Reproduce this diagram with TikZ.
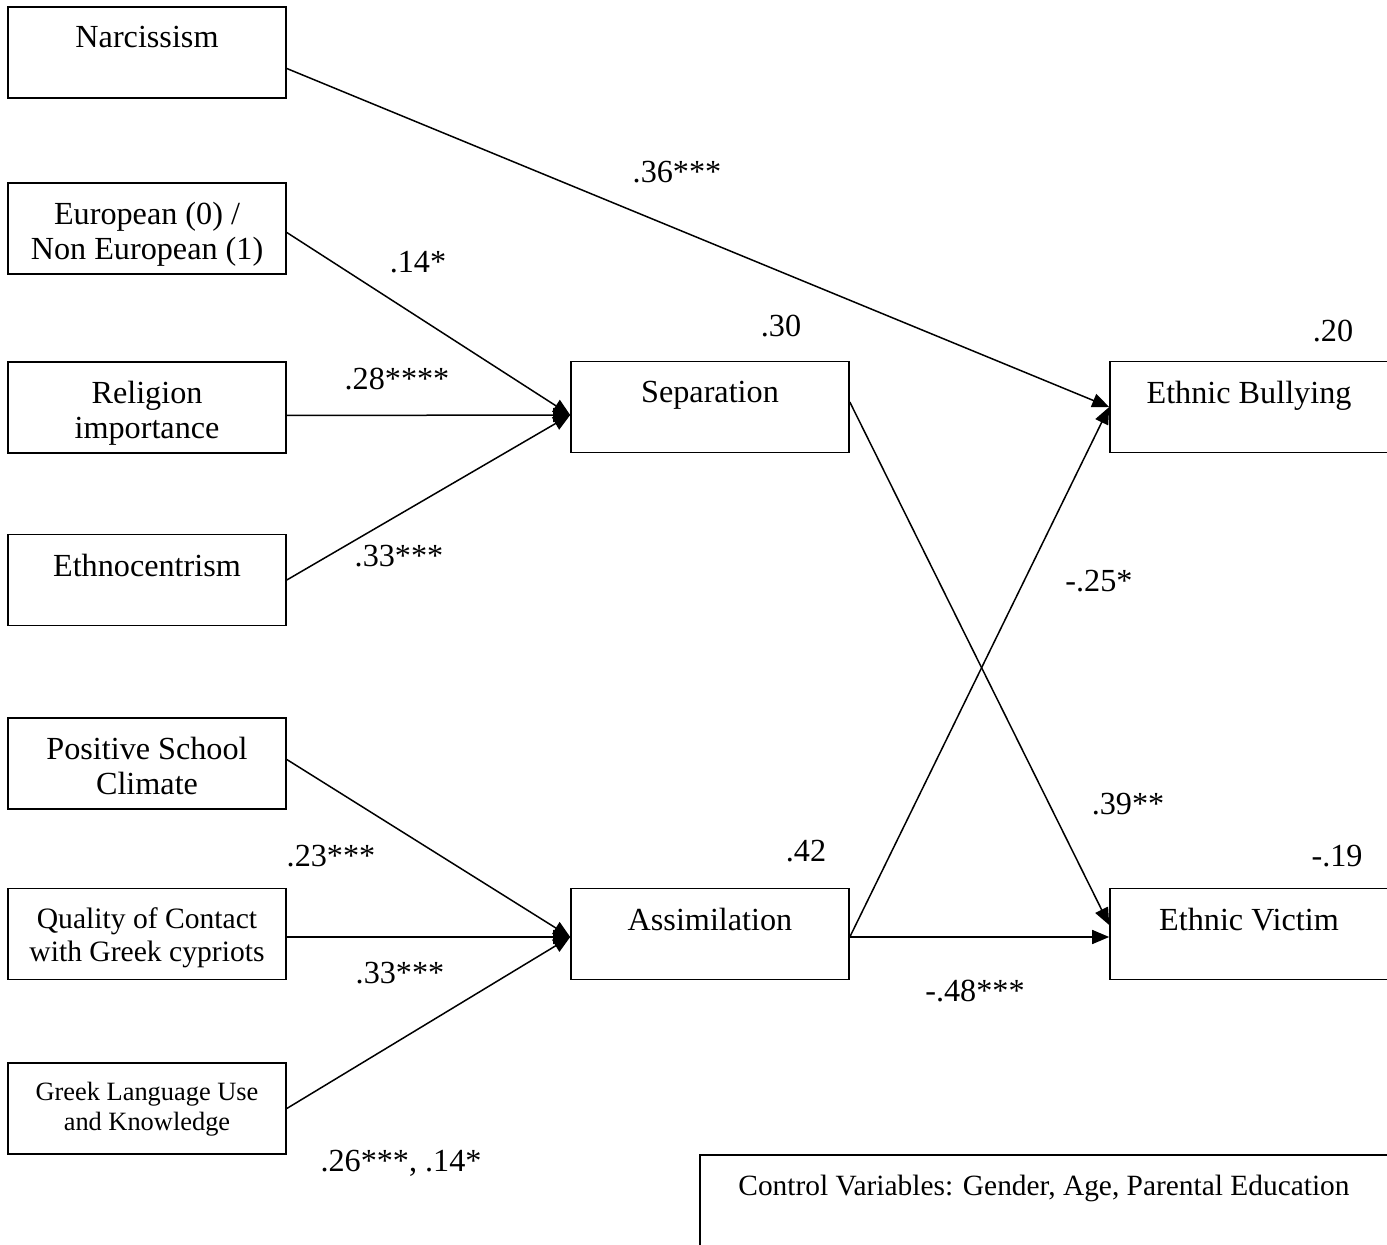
\documentclass[tikz,border=0pt]{standalone}
\usepackage{fontspec}
\setmainfont{Liberation Serif}
\usetikzlibrary{arrows.meta}
\begin{document}
\begin{tikzpicture}[x=0.5pt,y=-0.5pt,
  var/.style={draw, line width=0.8pt, minimum width=139pt, minimum height=45.5pt, inner sep=0pt},
  vtext/.style={anchor=north, inner sep=0pt, yshift=-10pt, align=center, font=\fontsize{16.1}{17.5}\selectfont},
  path/.style={line width=0.75pt, -{Triangle[length=8.5pt,width=7pt]}},
  coef/.style={font=\fontsize{16.1}{17.5}\selectfont, inner sep=0pt}]
\clip (0,0) rectangle (1387,1245);
% predictors
\node[var, label={[vtext]north:Narcissism}] (nar) at (147,52.5) {};
\node[var, label={[vtext]north:European (0) /\\Non European (1)}] (eur) at (147,228.5) {};
\node[var, label={[vtext]north:Religion\\importance}] (rel) at (147,407.5) {};
\node[var, label={[vtext]north:Ethnocentrism}] (eth) at (147,580) {};
\node[var, label={[vtext]north:Positive School\\Climate}] (pos) at (147,763.5) {};
\node[var, label={[vtext, font=\fontsize{14.8}{16.5}\selectfont]north:Quality of Contact\\with Greek cypriots}] (qua) at (147,934) {};
\node[var, label={[vtext, font=\fontsize{13.2}{15}\selectfont]north:Greek Language Use\\and Knowledge}] (gre) at (147,1108.5) {};
% mediators
\node[var, label={[vtext]north:Separation}] (sep) at (710,407) {};
\node[var, label={[vtext]north:Assimilation}] (ass) at (710,934) {};
% outcomes
\node[var, label={[vtext]north:Ethnic Bullying}] (bul) at (1249,407) {};
\node[var, label={[vtext]north:Ethnic Victim}] (vic) at (1249,934) {};
% controls
\node[draw, line width=0.8pt, minimum width=344pt, minimum height=60pt, inner sep=0pt,
  label={[vtext, font=\fontsize{14.7}{17}\selectfont]north:Control Variables: Gender, Age, Parental Education}] (ctl) at (1044,1215) {};

\draw[path] ([yshift=-8pt]nar.east) -- (bul.west);
\draw[path] ([yshift=-2pt]eur.east) -- ([yshift=-4pt]sep.west);
\draw[path] ([yshift=-4pt]rel.east) -- ([yshift=-4pt]sep.west);
\draw[path] (eth.east) -- ([yshift=-4pt]sep.west);
\draw[path] ([yshift=2pt]pos.east) -- ([yshift=-1.5pt]ass.west);
\draw[path] ([yshift=-1.5pt]qua.east) -- ([yshift=-1.5pt]ass.west);
\draw[path] (gre.east) -- ([yshift=-1.5pt]ass.west);
\draw[path] ([yshift=2.5pt]sep.east) -- ([yshift=4.5pt]vic.west);
\draw[path] ([yshift=-1.5pt]ass.east) -- (bul.west);
\draw[path] ([yshift=-1.5pt]ass.east) -- ([yshift=-1.5pt]vic.west);

% coefficients
\node[coef] (c1) at (677,172) {.36***};
\node[coef] (c2) at (418,262) {.14*};
\node[coef] (c3) at (397,379) {.28****};
\node[coef] (c4) at (399,556) {.33***};
\node[coef] (c5) at (1099,581) {-.25*};
\node[coef] (c6) at (1128,804) {.39**};
\node[coef] (c7) at (331,856) {.23***};
\node[coef] (c8) at (400,973) {.33***};
\node[coef] (c9) at (975,991) {-.48***};
\node[coef] (c10) at (401,1163) {.26***, .14*};
% explained variance
\node[coef] (r1) at (781,326) {.30};
\node[coef] (r2) at (1333,331) {.20};
\node[coef] (r3) at (806,851) {.42};
\node[coef] (r4) at (1337,856) {-.19};
\end{tikzpicture}
\end{document}
